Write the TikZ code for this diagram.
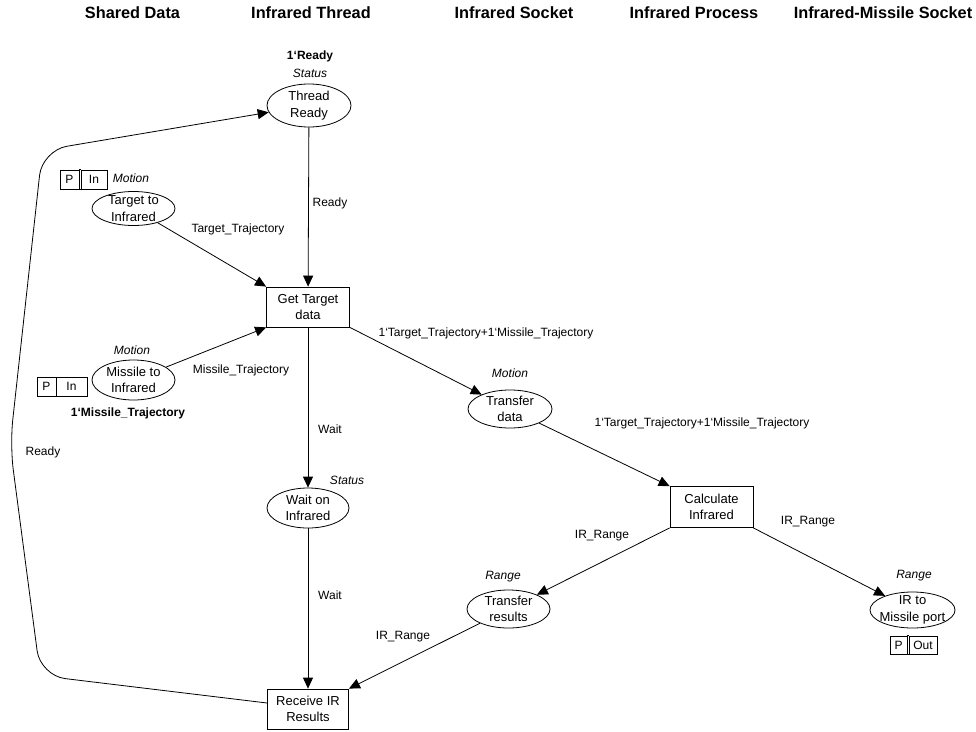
\documentclass[tikz,border=0pt]{standalone}
\usepackage{fontspec}
\setmainfont{Liberation Sans}
\usetikzlibrary{shapes.geometric,arrows.meta}
\begin{document}
\begin{tikzpicture}[x=1pt,y=-1pt,
  place/.style={draw,ellipse,line width=0.8pt,inner sep=0pt},
  trans/.style={draw,rectangle,line width=0.8pt,inner sep=0pt,align=center,font=\fontsize{13}{16}\selectfont},
  ptext/.style={align=center,inner sep=0pt,font=\fontsize{13}{16.5}\selectfont},
  lbl/.style={inner sep=0pt,font=\fontsize{12}{14}\selectfont},
  ilbl/.style={inner sep=0pt,font=\fontsize{12}{14}\selectfont\itshape},
  blbl/.style={inner sep=0pt,font=\fontsize{12}{14}\selectfont\bfseries},
  hdr/.style={inner sep=0pt,font=\fontsize{16.3}{18}\selectfont\bfseries},
  arc/.style={draw,line width=0.8pt,-{Triangle[length=11pt,width=10pt]}},
  pcell/.style={draw,rectangle,line width=0.6pt,inner sep=0pt,font=\fontsize{12}{14}\selectfont},
  pline/.style={draw,line width=0.6pt},
]
\useasboundingbox[fill=white] (0,0) rectangle (976,731);

% headers
\node[hdr] (h1) at (132.5,13) {Shared Data};
\node[hdr] (h2) at (311,13) {Infrared Thread};
\node[hdr] (h3) at (514,13) {Infrared Socket};
\node[hdr] (h4) at (694,13) {Infrared Process};
\node[hdr] (h5) at (883,13) {Infrared-Missile Socket};

% places
\node[place,minimum width=84pt,minimum height=43pt] (TR) at (309,105.5) {};
\node[ptext] (TRt) at (TR) {Thread\\Ready};
\node[place,minimum width=83pt,minimum height=34pt] (TI) at (133.5,208.5) {};
\node[ptext] (TIt) at (TI) {Target to\\Infrared};
\node[place,minimum width=83pt,minimum height=40pt] (MI) at (133.5,380) {};
\node[ptext] (MIt) at (MI) {Missile to\\Infrared};
\node[place,minimum width=82pt,minimum height=40pt] (WI) at (308,508) {};
\node[ptext] (WIt) at (WI) {Wait on\\Infrared};
\node[place,minimum width=84pt,minimum height=38pt] (TD) at (510,409) {};
\node[ptext] (TDt) at (TD) {Transfer\\data};
\node[place,minimum width=83pt,minimum height=38pt] (TRs) at (508.5,609) {};
\node[ptext] (TRst) at (TRs) {Transfer\\results};
\node[place,minimum width=85pt,minimum height=36pt] (IRM) at (912.5,610) {};
\node[ptext] (IRMt) at (IRM) {IR to\\Missile port};

% transitions
\node[trans,minimum width=83pt,minimum height=40pt] (GT) at (308,307) {Get Target\\data};
\node[trans,minimum width=83pt,minimum height=41pt] (CI) at (711.5,507) {Calculate\\Infrared};
\node[trans,minimum width=81pt,minimum height=40pt] (RIR) at (308,709) {Receive IR\\Results};

% place inscriptions
\node[blbl] (m1) at (310,56) {1‘Ready};
\node[ilbl] (s1) at (310,73) {Status};
\node[ilbl] (s2) at (131,178) {Motion};
\node[ilbl] (s3) at (132,350) {Motion};
\node[blbl] (m2) at (128,413) {1‘Missile\_Trajectory};
\node[ilbl] (s4) at (510,373) {Motion};
\node[ilbl] (s5) at (347,480) {Status};
\node[ilbl] (s6) at (503,577) {Range};
\node[ilbl] (s7) at (914,576) {Range};

% port tags
\node[pcell,minimum width=19pt,minimum height=19pt] (P1p) at (69.5,179.5) {P};
\node[pcell,minimum width=26pt,minimum height=19pt] (P1i) at (94,179.5) {In};
\draw[pline] (P1p.north east) -- (P1i.north west) (P1p.south east) -- (P1i.south west);
\node[pcell,minimum width=19pt,minimum height=19pt] (P2p) at (46.5,386.5) {P};
\node[pcell,minimum width=31pt,minimum height=19pt] (P2i) at (71.5,386.5) {In};
\node[pcell,minimum width=17pt,minimum height=18pt] (P3p) at (898.5,645) {P};
\node[pcell,minimum width=28pt,minimum height=18pt] (P3o) at (923,645) {Out};
\draw[pline] (P3p.north east) -- (P3o.north west) (P3p.south east) -- (P3o.south west);

% arcs
\draw[arc] (TR) -- (GT);
\draw[arc] (TI) -- (GT.north west);
\draw[arc] (MI) -- (GT.south west);
\draw[arc] (GT.south east) -- (TD);
\draw[arc] (TD) -- (CI.north west);
\draw[arc] (GT) -- (WI);
\draw[arc] (WI) -- (RIR);
\draw[arc] (CI.south west) -- (TRs);
\draw[arc] (TRs) -- (RIR.north east);
\draw[arc] (CI.south east) -- (IRM);
\draw[arc,rounded corners=25pt] ([yshift=6pt]RIR.west) -- (40.4,675.6) -- (10,445) -- (42.3,150.4) -- (TR);

% arc inscriptions
\node[lbl] (a1) at (330,203) {Ready};
\node[lbl] (a2) at (238,229) {Target\_Trajectory};
\node[lbl] (a3) at (241,370) {Missile\_Trajectory};
\node[lbl] (a4) at (486,333) {1‘Target\_Trajectory+1‘Missile\_Trajectory};
\node[lbl] (a5) at (702,423) {1‘Target\_Trajectory+1‘Missile\_Trajectory};
\node[lbl] (a6) at (330,429) {Wait};
\node[lbl] (a7) at (330,595) {Wait};
\node[lbl] (a8) at (602,536) {IR\_Range};
\node[lbl] (a9) at (403,637) {IR\_Range};
\node[lbl] (a10) at (808,522) {IR\_Range};
\node[lbl] (a11) at (43,452) {Ready};
\end{tikzpicture}
\end{document}
